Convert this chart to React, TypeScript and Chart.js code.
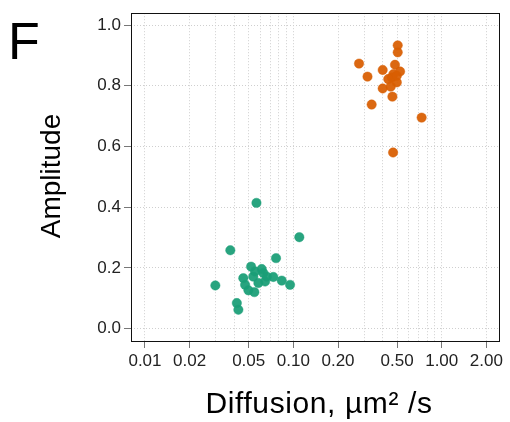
import React, { useEffect, useRef } from "react";
import { Chart, registerables } from "chart.js";

Chart.register(...registerables);

// Diffusion (µm²/s) and amplitude of each cluster
const greenDiffusion = [
  0.0564, 0.1097, 0.0376, 0.0764, 0.0519, 0.0612, 0.0628, 0.046, 0.0733, 0.0835, 0.095,
  0.0298, 0.0473, 0.0498, 0.0546, 0.0416, 0.0426, 0.0537, 0.0645, 0.0581, 0.0552, 0.0662,
];
const greenAmplitude = [
  0.414, 0.301, 0.258, 0.232, 0.204, 0.196, 0.183, 0.166, 0.17, 0.158, 0.144,
  0.142, 0.144, 0.126, 0.12, 0.084, 0.062, 0.171, 0.155, 0.15, 0.188, 0.171,
];
const orangeDiffusion = [
  0.505, 0.505, 0.277, 0.484, 0.4, 0.524, 0.316, 0.472, 0.46, 0.498, 0.498,
  0.436, 0.4, 0.453, 0.465, 0.337, 0.732, 0.47,
];
const orangeAmplitude = [
  0.933, 0.91, 0.873, 0.869, 0.852, 0.847, 0.83, 0.838, 0.827, 0.811, 0.833,
  0.822, 0.791, 0.797, 0.764, 0.738, 0.695, 0.58,
];

// Axis ticks
const xGridValues = [
  0.01, 0.02, 0.03, 0.04, 0.05, 0.06, 0.07, 0.08, 0.09,
  0.1, 0.2, 0.3, 0.4, 0.5, 0.6, 0.7, 0.8, 0.9,
  1, 2,
];
const xTickLabels = [0.01, 0.02, 0.05, 0.1, 0.2, 0.5, 1, 2];
const yTickValues = [0, 0.2, 0.4, 0.6, 0.8, 1.0];

const FONT = "'Liberation Sans', Arial, Helvetica, sans-serif";

const isLabeled = (v: number) => xTickLabels.some((t) => Math.abs(t - v) < 1e-9);

const decorPlugin = {
  id: "decor",
  afterDraw(chart: any) {
    const { ctx, chartArea: a } = chart;
    ctx.save();
    ctx.strokeStyle = "#111";
    ctx.lineWidth = 1;
    ctx.setLineDash([]);
    ctx.strokeRect(Math.round(a.left) + 0.5, Math.round(a.top) + 0.5, Math.round(a.right - a.left) - 1, Math.round(a.bottom - a.top));

    ctx.fillStyle = "#000";
    // panel letter
    ctx.font = `52px ${FONT}`;
    ctx.textAlign = "left";
    ctx.textBaseline = "alphabetic";
    ctx.fillText("F", 8, 59);

    // x title
    ctx.font = `30px ${FONT}`;
    ctx.textAlign = "center";
    try {
      (ctx as any).letterSpacing = "0.6px";
    } catch (e) {}
    ctx.fillText("Diffusion, µm² /s", 319, 413);
    try {
      (ctx as any).letterSpacing = "0px";
    } catch (e) {}

    // y title
    ctx.translate(59.5, 176);
    ctx.rotate(-Math.PI / 2);
    ctx.font = `28px ${FONT}`;
    ctx.textAlign = "center";
    ctx.textBaseline = "alphabetic";
    ctx.fillText("Amplitude", 0, 0);
    ctx.restore();
  },
};

export default function App() {
  const ref = useRef<HTMLCanvasElement>(null);

  useEffect(() => {
    if (!ref.current) return;
    const toPts = (xs: number[], ys: number[]) => xs.map((x, i) => ({ x, y: ys[i] }));
    const chart = new Chart(ref.current, {
      type: "scatter",
      data: {
        datasets: [
          {
            label: "green",
            data: toPts(greenDiffusion, greenAmplitude),
            backgroundColor: "rgba(27,158,119,0.94)",
            borderColor: "rgba(27,158,119,0.55)",
            borderWidth: 0.8,
            pointRadius: 4.7,
          },
          {
            label: "orange",
            data: toPts(orangeDiffusion, orangeAmplitude),
            backgroundColor: "rgba(217,95,2,0.94)",
            borderColor: "rgba(217,95,2,0.55)",
            borderWidth: 0.8,
            pointRadius: 4.7,
          },
        ],
      },
      options: {
        animation: false,
        responsive: false,
        devicePixelRatio: 1,
        layout: { padding: { left: 0, right: 10, top: 12, bottom: 0 } },
        plugins: { legend: { display: false }, tooltip: { enabled: false } },
        scales: {
          x: {
            type: "logarithmic",
            min: 0.00805,
            max: 2.47,
            afterBuildTicks: (s: any) => {
              s.ticks = xGridValues.map((v) => ({ value: v }));
            },
            afterFit: (s: any) => {
              s.height = 81;
            },
            ticks: {
              autoSkip: false,
              maxRotation: 0,
              minRotation: 0,
              padding: 3,
              color: "#222",
              font: { family: FONT, size: 17 },
              callback: (v: any) => (isLabeled(Number(v)) ? Number(v).toFixed(2) : ""),
            },
            grid: {
              color: "#cfcfcf",
              lineWidth: 1,
              tickLength: 7,
              tickColor: (c: any) => (c.tick && isLabeled(c.tick.value) ? "#777" : "rgba(0,0,0,0)"),
            },
            border: { display: false, dash: [1, 2] },
          },
          y: {
            type: "linear",
            min: -0.041,
            max: 1.039,
            afterBuildTicks: (s: any) => {
              s.ticks = yTickValues.map((v) => ({ value: v }));
            },
            afterFit: (s: any) => {
              s.width = 131;
            },
            ticks: {
              padding: 3,
              color: "#222",
              font: { family: FONT, size: 17 },
              callback: (v: any) => Number(v).toFixed(1),
            },
            grid: { color: "#cfcfcf", lineWidth: 1, tickLength: 7, tickColor: "#777" },
            border: { display: false, dash: [1, 2] },
          },
        },
      },
      plugins: [decorPlugin],
    });
    return () => chart.destroy();
  }, []);

  return (
    <div style={{ position: "fixed", left: 0, top: 0, width: 510, height: 422, background: "#fff" }}>
      <canvas ref={ref} width={510} height={422} style={{ width: 510, height: 422, display: "block" }} />
    </div>
  );
}
